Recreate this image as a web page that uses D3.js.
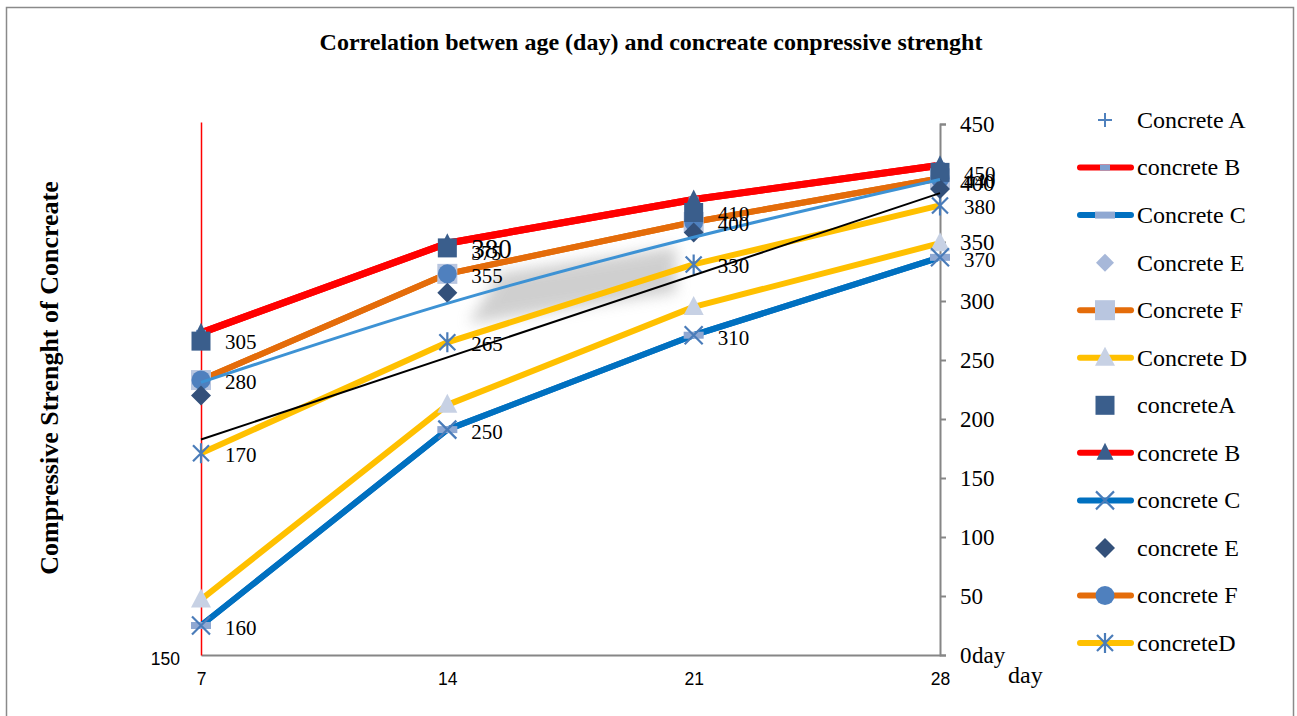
<!DOCTYPE html>
<html><head><meta charset="utf-8">
<script src="https://cdn.jsdelivr.net/npm/d3@7/dist/d3.min.js"></script>
<style>body{margin:0;background:#fff}</style>
</head><body><svg id="c" width="1297" height="716"></svg>
<script>
// ---------- DATA ----------
const days = [7, 14, 21, 28];
const rightTicks = [0, 50, 100, 150, 200, 250, 300, 350, 400, 450];
const leftTicks = [150];

// first group (legend rows 1-6)
const concreteA1 = [266, 345, 375, 409];   // "+" markers (hidden under squares)
const concreteB1 = [273, 349, 386, 415];   // red line
const concreteC1 = [25, 191, 271, 337];    // blue line
const concreteE1 = [220, 307, 358, 395];   // light diamonds
const concreteF1 = [233, 323, 367, 404];   // orange line, light squares
const concreteD1 = [47, 212, 295, 349];    // yellow line, light triangles
// second group (legend rows 7-12)
const concreteA2 = [266, 345, 375, 409];   // dark squares
const concreteB2 = [273, 349, 386, 415];   // red line, triangles
const concreteC2 = [25, 191, 271, 337];    // blue line, x
const concreteE2 = [220, 307, 358, 395];   // dark diamonds
const concreteF2 = [233, 323, 367, 404];   // orange line, circles
const concreteD2 = [171, 265, 331, 381];   // yellow line, asterisks
// thin blue smoothed line
const thinBlue = [231, 298, 354, 403];

// data labels
const labelsA = ["305", "380", "410", "450"];
const labelsAextra = [null, "375", null, null];
const labelsF = ["280", "355", "400", "440"];
const labelsD2 = ["170", "265", "330", "380"];
const labelsC = ["160", "250", "310", "370"];

// blurred artifact region (data coordinates)
const blob = [[15.5, 324], [20.5, 346], [20.5, 307], [14.6, 281]];

const legendNames = ["Concrete A", "concrete B", "Concrete C", "Concrete E", "Concrete F", "Concrete D",
                     "concreteA", "concrete B", "concrete C", "concrete E", "concrete F", "concreteD"];

// ---------- STYLE ----------
const SERIF = "'Liberation Serif','Times New Roman',serif";
const SANS = "'Liberation Sans',Arial,sans-serif";
const C = {
  red: "#ff0000", orange: "#e46c0a", yellow: "#ffc000", blue: "#0070c0", thinBlue: "#3d92d4",
  dark: "#3a5e8c", darkD: "#33507a", mid: "#4f80be", xs: "#4a7cb9",
  lightTri: "#c7d1e4", lightSq: "#b9c6e0", lightRect: "#8fa8d2", lightDia: "#a7b8d9", plus: "#4f81bd"
};

const series = [
  {v: concreteA1, line: null, marker: "plus"},
  {v: concreteB1, line: C.red, w: 7, marker: "rectSmallB"},
  {v: concreteC1, line: C.blue, w: 6, marker: "rectSmallC"},
  {v: concreteE1, line: null, marker: "diamondLight"},
  {v: concreteF1, line: C.orange, w: 6, marker: "squareLight"},
  {v: concreteD1, line: C.yellow, w: 6, marker: "triLight"},
  {v: concreteA2, line: null, marker: "square"},
  {v: concreteB2, line: C.red, w: 7, marker: "tri"},
  {v: concreteC2, line: C.blue, w: 6, marker: "x"},
  {v: concreteE2, line: null, marker: "diamond"},
  {v: concreteF2, line: C.orange, w: 6, marker: "circle"},
  {v: concreteD2, line: C.yellow, w: 6, marker: "asterisk"}
];
const markerOrder = [0, 1, 2, 3, 4, 5, 7, 8, 10, 11, 6, 9];

const svg = d3.select("#c");
svg.append("rect").attr("x", 6.5).attr("y", 7.5).attr("width", 1287).attr("height", 720)
  .attr("fill", "#fff").attr("stroke", "#8a8a8a").attr("stroke-width", 1.5);

const x = d3.scaleLinear().domain([7, 28]).range([201, 940]);
const y = d3.scaleLinear().domain([0, 450]).range([655, 124]);
const yL = d3.scaleLinear().domain([150, 450]).range([655, 122]);

// blur filter
const defs = svg.append("defs");
defs.append("filter").attr("id", "bl").attr("x", "-50%").attr("y", "-50%").attr("width", "200%").attr("height", "200%")
  .append("feGaussianBlur").attr("stdDeviation", 7);
svg.append("polygon")
  .attr("points", blob.map(p => [x(p[0]), y(p[1])].join(",")).join(" "))
  .attr("fill", "#c4c4c4").attr("opacity", 0.8).attr("filter", "url(#bl)");

// axes
const gR = svg.append("g").attr("transform", "translate(940,0)")
  .call(d3.axisRight(y).tickValues(rightTicks).tickSize(6).tickPadding(14).tickFormat(d => d));
gR.select(".domain").attr("stroke", "#868686").attr("stroke-width", 2);
gR.selectAll(".tick line").attr("stroke", "#868686").attr("stroke-width", 2);
gR.selectAll(".tick text").style("font-family", SERIF).style("font-size", "23px").attr("fill", "#000");

const gB = svg.append("g").attr("transform", "translate(0,655)")
  .call(d3.axisBottom(x).tickValues(days).tickSize(0).tickPadding(18).tickFormat(d => d));
gB.select(".domain").attr("stroke", "#868686").attr("stroke-width", 2);
gB.selectAll(".tick text").style("font-family", SANS).style("font-size", "17.5px").attr("fill", "#000");

const gL = svg.append("g").attr("transform", "translate(201,0)")
  .call(d3.axisLeft(yL).tickValues(leftTicks).tickSize(0).tickPadding(21).tickFormat(d => d));
gL.select(".domain").attr("stroke", "#ff0000").attr("stroke-width", 1.5);
gL.selectAll(".tick text").style("font-family", SANS).style("font-size", "17.5px").attr("fill", "#000").attr("dy", "0.55em");

// lines
const lineGen = d3.line().x((d, i) => x(days[i])).y(d => y(d));
const plot = svg.append("g");
series.forEach(s => {
  if (!s.line) return;
  plot.append("path").attr("d", lineGen(s.v)).attr("fill", "none")
    .attr("stroke", s.line).attr("stroke-width", s.w).attr("stroke-linejoin", "round");
});

function marker(g, type, cx, cy) {
  switch (type) {
    case "plus":
      g.append("path").attr("d", `M${cx-7},${cy}H${cx+7}M${cx},${cy-7}V${cy+7}`).attr("stroke", C.plus).attr("stroke-width", 2); break;
    case "rectSmallB":
      g.append("rect").attr("x", cx-5).attr("y", cy-3).attr("width", 10).attr("height", 6).attr("fill", "#7f9fcf"); break;
    case "rectSmallC":
      g.append("rect").attr("x", cx-10).attr("y", cy-3.5).attr("width", 20).attr("height", 7).attr("fill", C.lightRect); break;
    case "diamondLight":
      g.append("path").attr("d", `M${cx},${cy-9}L${cx+9},${cy}L${cx},${cy+9}L${cx-9},${cy}Z`).attr("fill", C.lightDia); break;
    case "squareLight":
      g.append("rect").attr("x", cx-10).attr("y", cy-10).attr("width", 20).attr("height", 20).attr("fill", C.lightSq); break;
    case "triLight":
      g.append("path").attr("d", `M${cx},${cy-11}L${cx+10},${cy+8}L${cx-10},${cy+8}Z`).attr("fill", C.lightTri); break;
    case "square":
      g.append("rect").attr("x", cx-9.5).attr("y", cy-9.5).attr("width", 19).attr("height", 19).attr("fill", C.dark); break;
    case "tri":
      g.append("path").attr("d", `M${cx},${cy-10}L${cx+8.5},${cy+7}L${cx-8.5},${cy+7}Z`).attr("fill", C.dark); break;
    case "x":
      g.append("path").attr("d", `M${cx-9},${cy-9}L${cx+9},${cy+9}M${cx+9},${cy-9}L${cx-9},${cy+9}`).attr("stroke", C.xs).attr("stroke-width", 2.2); break;
    case "diamond":
      g.append("path").attr("d", `M${cx},${cy-10}L${cx+10},${cy}L${cx},${cy+10}L${cx-10},${cy}Z`).attr("fill", C.darkD); break;
    case "circle":
      g.append("circle").attr("cx", cx).attr("cy", cy).attr("r", 9.5).attr("fill", C.mid); break;
    case "asterisk":
      g.append("path").attr("d", `M${cx-8},${cy-8}L${cx+8},${cy+8}M${cx+8},${cy-8}L${cx-8},${cy+8}M${cx},${cy-10}V${cy+10}`).attr("stroke", C.xs).attr("stroke-width", 2.2); break;
  }
}
markerOrder.forEach(k => {
  const s = series[k];
  s.v.forEach((v, i) => marker(plot, s.marker, x(days[i]), y(v)));
});

// thin blue smoothed line and linear trendline of concreteD (second group)
plot.append("path").attr("d", d3.line().curve(d3.curveMonotoneX).x((d, i) => x(days[i])).y(d => y(d))(thinBlue))
  .attr("fill", "none").attr("stroke", C.thinBlue).attr("stroke-width", 3);
const mx = d3.mean(days), my = d3.mean(concreteD2);
const slope = d3.sum(days, (d, i) => (d - mx) * (concreteD2[i] - my)) / d3.sum(days, d => (d - mx) ** 2);
const tr = d => my + slope * (d - mx);
plot.append("line").attr("x1", x(7)).attr("y1", y(tr(7))).attr("x2", x(28)).attr("y2", y(tr(28)))
  .attr("stroke", "#000").attr("stroke-width", 2);

// data labels
function labels(arr, vals, dy, size, bigIdx) {
  arr.forEach((t, i) => {
    if (t == null) return;
    svg.append("text").attr("x", x(days[i]) + 24).attr("y", y(vals[i]) + dy)
      .attr("dy", "0.35em").style("font-family", SERIF).style("font-size", (i === bigIdx ? 27 : size) + "px")
      .attr("fill", "#000").text(t);
  });
}
labels(labelsA, concreteA2, 1, 21, 1);
labels(labelsAextra, concreteA2, 5, 20, -1);
labels(labelsF, concreteF2, 2, 21, -1);
labels(labelsD2, concreteD2, 1, 21, -1);
labels(labelsC, concreteC2, 2, 21, -1);

// axis titles
svg.append("text").attr("x", 972).attr("y", y(0)).attr("dy", "0.35em")
  .style("font-family", SERIF).style("font-size", "23px").text("day");
svg.append("text").attr("x", 1008).attr("y", 683)
  .style("font-family", SERIF).style("font-size", "24px").text("day");
svg.append("text").attr("transform", "translate(58,378) rotate(-90)").attr("text-anchor", "middle")
  .style("font-family", SERIF).style("font-size", "26px").style("font-weight", "bold").text("Compressive Strenght of Concreate");
svg.append("text").attr("x", 651).attr("y", 50).attr("text-anchor", "middle")
  .style("font-family", SERIF).style("font-size", "24px").style("font-weight", "bold")
  .text("Correlation betwen age (day) and concreate conpressive strenght");

// legend
const lg = svg.append("g");
legendNames.forEach((n, i) => {
  const s = series[i];
  const cy = 120 + i * 47.55;
  if (s.line) lg.append("line").attr("x1", 1080).attr("x2", 1131).attr("y1", cy).attr("y2", cy)
    .attr("stroke", s.line).attr("stroke-width", 6).attr("stroke-linecap", "round");
  marker(lg, s.marker, 1105, cy);
  lg.append("text").attr("x", 1137).attr("y", cy).attr("dy", "0.33em")
    .style("font-family", SERIF).style("font-size", "24px").text(n);
});
</script></body></html>
